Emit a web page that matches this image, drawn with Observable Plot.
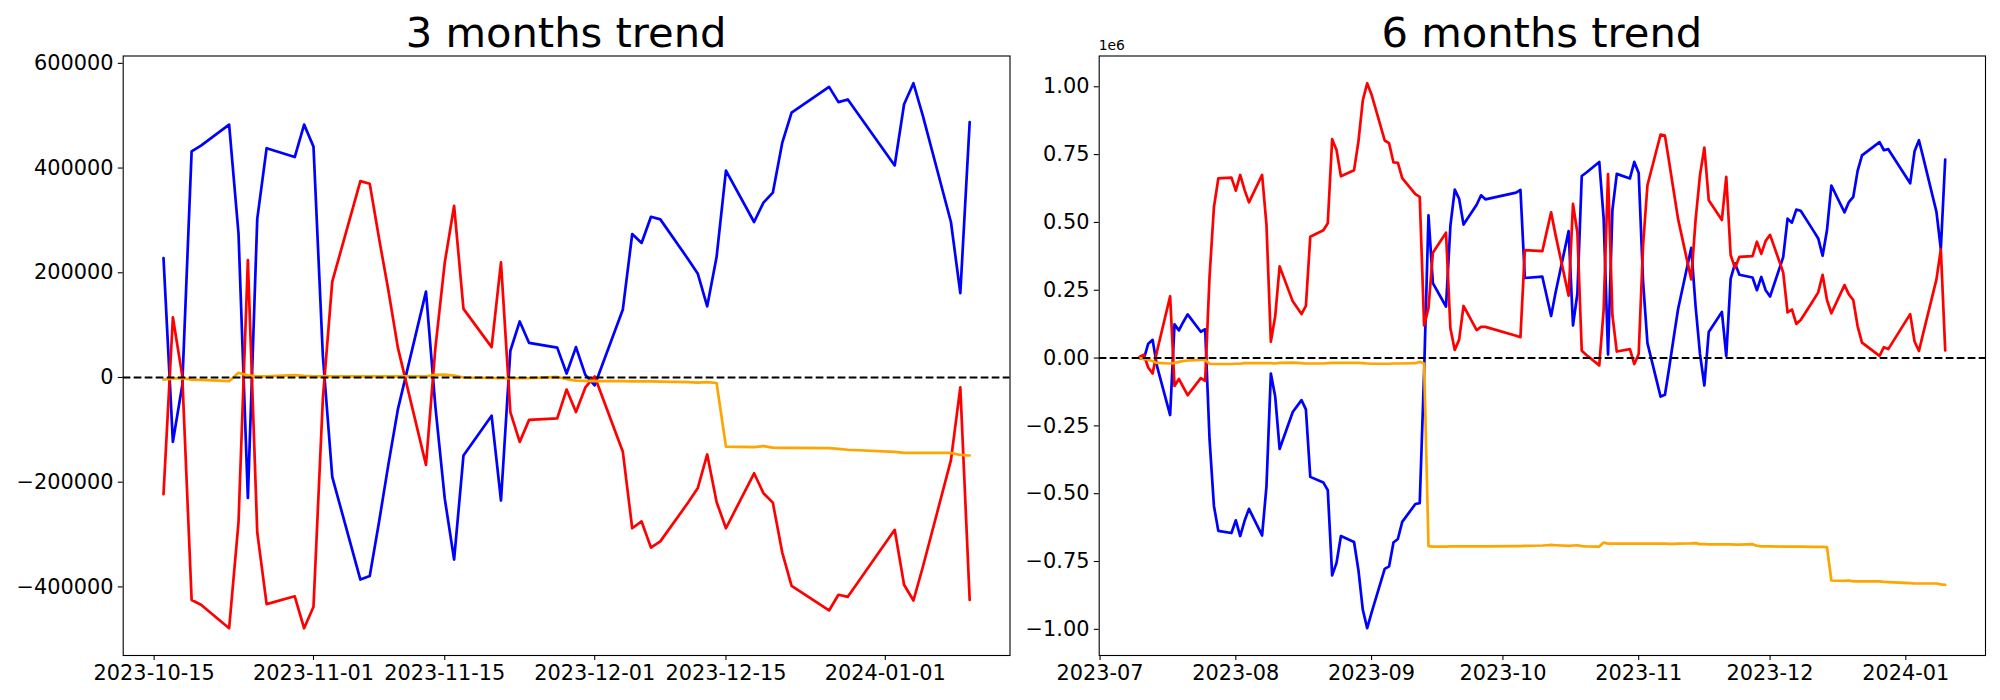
<!DOCTYPE html>
<html>
<head>
<meta charset="utf-8">
<script src="https://cdn.jsdelivr.net/npm/d3@7"></script>
<script src="https://cdn.jsdelivr.net/npm/@observablehq/plot@0.6"></script>
<style>
  body { margin: 0; background: #fff; }
  #wrap { position: relative; width: 2000px; height: 700px; font-family: "DejaVu Sans"; color: #000; overflow: hidden; }
  .title { position: absolute; font-size: 41.67px; line-height: 1; white-space: nowrap; transform: translateX(-50%); }
  .off { position: absolute; font-size: 13.9px; line-height: 1; white-space: nowrap; }
  .panel { position: absolute; top: 0; }
</style>
</head>
<body>
<div id="wrap"></div>
<script>
// ---------- 3 months trend ----------
const dates3m = [
  "2023-10-16","2023-10-17","2023-10-18","2023-10-19","2023-10-20",
  "2023-10-23","2023-10-24","2023-10-25","2023-10-26","2023-10-27",
  "2023-10-30","2023-10-31","2023-11-01","2023-11-02","2023-11-03",
  "2023-11-06","2023-11-07","2023-11-08","2023-11-09","2023-11-10",
  "2023-11-13","2023-11-14","2023-11-15","2023-11-16","2023-11-17",
  "2023-11-20","2023-11-21","2023-11-22","2023-11-23","2023-11-24",
  "2023-11-27","2023-11-28","2023-11-29","2023-11-30","2023-12-01",
  "2023-12-04","2023-12-05","2023-12-06","2023-12-07","2023-12-08",
  "2023-12-11","2023-12-12","2023-12-13","2023-12-14","2023-12-15",
  "2023-12-18","2023-12-19","2023-12-20","2023-12-21","2023-12-22",
  "2023-12-26","2023-12-27","2023-12-28",
  "2024-01-02","2024-01-03","2024-01-04","2024-01-05",
  "2024-01-08","2024-01-09","2024-01-10"
];
const blue3m = [
  228000, -123000, -15000, 432000, 443000,
  483000, 275000, -230000, 303000, 438000,
  421000, 483000, 441000, 41000, -190000,
  -386000, -379000, -275000, -165000, -61000,
  164000, -55000, -231000, -348000, -149000,
  -73000, -235000, 51000, 107000, 66000,
  57000, 7500, 58000, 5000, -15000,
  130000, 274000, 257000, 307000, 302000,
  225000, 198000, 136000, 230000, 395000,
  297000, 334000, 353000, 448000, 506000,
  555000, 526000, 531000,
  405000, 522000, 562000, 500000,
  297000, 161000, 488000
];
const red3m = [
  -223000, 115000, 3000, -425000, -434000,
  -479000, -277000, 224000, -296000, -433000,
  -418000, -479000, -438000, -40000, 183000,
  375000, 370000, 265000, 165000, 57000,
  -167000, 56000, 219000, 328000, 131000,
  58000, 220000, -66000, -123000, -81000,
  -78000, -23000, -66000, -19000, 2000,
  -142000, -288000, -275000, -325000, -313000,
  -238000, -211000, -147000, -238000, -288000,
  -183000, -221000, -239000, -334000, -398000,
  -445000, -415000, -419000,
  -291000, -396000, -426000, -362000,
  -158000, -19000, -425000
];
const orange3m = [
  -4000, -2000, -1500, -4000, -4500,
  -7000, 9000, 4000, 2000, 2000,
  4500, 3000, 2000, 2000, 2000,
  2000, 2000, 2000, 2000, 2000,
  2000, 5000, 5500, 3500, 0,
  -1000, -1500, -1500, -1500, -1500,
  1000, -3000, -6000, -6500, -7000,
  -7000, -7500, -7500, -7500, -8000,
  -9000, -10000, -9000, -10500, -132000,
  -133000, -131000, -134000, -134500, -134500,
  -135000, -136500, -138000,
  -142000, -144000, -144000, -144000,
  -144000, -148000, -149000
];
const xTicks3m = ["2023-10-15","2023-11-01","2023-11-15","2023-12-01","2023-12-15","2024-01-01"];
const yTicks3m = [-400000, -200000, 0, 200000, 400000, 600000];

// ---------- 6 months trend (values in units of 1e6) ----------
const dates6m = [
  "2023-07-10","2023-07-11","2023-07-12","2023-07-13","2023-07-14",
  "2023-07-17","2023-07-18","2023-07-19","2023-07-20","2023-07-21",
  "2023-07-24","2023-07-25","2023-07-26","2023-07-27","2023-07-28",
  "2023-07-31","2023-08-01","2023-08-02","2023-08-03","2023-08-04",
  "2023-08-07","2023-08-08","2023-08-09","2023-08-10","2023-08-11",
  "2023-08-14","2023-08-16","2023-08-17","2023-08-18",
  "2023-08-21","2023-08-22","2023-08-23","2023-08-24","2023-08-25",
  "2023-08-28","2023-08-29","2023-08-30","2023-08-31","2023-09-01",
  "2023-09-04","2023-09-05","2023-09-06","2023-09-07","2023-09-08",
  "2023-09-11","2023-09-12","2023-09-13","2023-09-14","2023-09-15",
  "2023-09-18","2023-09-19","2023-09-20","2023-09-21","2023-09-22",
  "2023-09-25","2023-09-26","2023-09-27",
  "2023-10-04","2023-10-05","2023-10-06",
  "2023-10-10","2023-10-11","2023-10-12","2023-10-13",
  "2023-10-16","2023-10-17","2023-10-18","2023-10-19","2023-10-20",
  "2023-10-23","2023-10-24","2023-10-25","2023-10-26","2023-10-27",
  "2023-10-30","2023-10-31","2023-11-01","2023-11-02","2023-11-03",
  "2023-11-06","2023-11-07","2023-11-08","2023-11-09","2023-11-10",
  "2023-11-13","2023-11-14","2023-11-15","2023-11-16","2023-11-17",
  "2023-11-20","2023-11-21","2023-11-22","2023-11-23","2023-11-24",
  "2023-11-27","2023-11-28","2023-11-29","2023-11-30","2023-12-01",
  "2023-12-04","2023-12-05","2023-12-06","2023-12-07","2023-12-08",
  "2023-12-11","2023-12-12","2023-12-13","2023-12-14","2023-12-15",
  "2023-12-18","2023-12-19","2023-12-20","2023-12-21","2023-12-22",
  "2023-12-26","2023-12-27","2023-12-28",
  "2024-01-02","2024-01-03","2024-01-04","2024-01-05",
  "2024-01-08","2024-01-09","2024-01-10"
];
const blue6m = [
  0.000, -0.003, 0.053, 0.067, -0.030,
  -0.210, 0.124, 0.102, 0.133, 0.161,
  0.097, 0.106, -0.300, -0.545, -0.637,
  -0.645, -0.598, -0.656, -0.600, -0.556,
  -0.654, -0.473, -0.057, -0.143, -0.335,
  -0.199, -0.155, -0.189, -0.438,
  -0.459, -0.487, -0.801, -0.755, -0.656,
  -0.678, -0.782, -0.928, -0.996, -0.938,
  -0.777, -0.768, -0.680, -0.667, -0.604,
  -0.538, -0.535, -0.050, 0.526, 0.276,
  0.190, 0.487, 0.621, 0.587, 0.492,
  0.565, 0.600, 0.585,
  0.610, 0.620, 0.295,
  0.300, 0.228, 0.155, 0.240,
  0.468, 0.120, 0.238, 0.671, 0.683,
  0.723, 0.515, 0.013, 0.545, 0.679,
  0.662, 0.723, 0.682, 0.282, 0.055,
  -0.142, -0.135, -0.032, 0.076, 0.181,
  0.406, 0.190, 0.015, -0.101, 0.096,
  0.170, 0.008, 0.292, 0.349, 0.307,
  0.297, 0.250, 0.299, 0.250, 0.227,
  0.372, 0.514, 0.499, 0.547, 0.543,
  0.467, 0.441, 0.377, 0.471, 0.636,
  0.537, 0.575, 0.594, 0.690, 0.747,
  0.796, 0.766, 0.770,
  0.644, 0.762, 0.803, 0.738,
  0.539, 0.401, 0.732
];
const red6m = [
  0.004, 0.012, -0.035, -0.057, 0.025,
  0.228, -0.103, -0.077, -0.107, -0.137,
  -0.074, -0.084, 0.300, 0.556, 0.662,
  0.665, 0.617, 0.675, 0.620, 0.574,
  0.675, 0.491, 0.060, 0.155, 0.338,
  0.209, 0.162, 0.192, 0.447,
  0.471, 0.497, 0.807, 0.767, 0.670,
  0.692, 0.798, 0.950, 1.013, 0.971,
  0.802, 0.792, 0.721, 0.720, 0.663,
  0.604, 0.594, 0.120, 0.184, 0.388,
  0.462, 0.110, 0.030, 0.068, 0.192,
  0.103, 0.115, 0.115,
  0.082, 0.077, 0.398,
  0.394, 0.466, 0.537, 0.455,
  0.230, 0.568, 0.462, 0.027, 0.012,
  -0.027, 0.178, 0.678, 0.158, 0.024,
  0.033, -0.022, 0.015, 0.415, 0.637,
  0.824, 0.820, 0.718, 0.615, 0.512,
  0.290, 0.510, 0.674, 0.776, 0.582,
  0.509, 0.668, 0.380, 0.332, 0.373,
  0.376, 0.429, 0.384, 0.432, 0.454,
  0.316, 0.168, 0.179, 0.126, 0.140,
  0.216, 0.242, 0.307, 0.214, 0.165,
  0.269, 0.235, 0.214, 0.117, 0.057,
  0.008, 0.040, 0.033,
  0.162, 0.061, 0.026, 0.093,
  0.290, 0.401, 0.028
];
const orange6m = [
  0.000, -0.003, -0.006, -0.012, -0.018,
  -0.020, -0.018, -0.014, -0.011, -0.009,
  -0.007, -0.007, -0.021, -0.022, -0.022,
  -0.022, -0.021, -0.021, -0.019, -0.019,
  -0.019, -0.019, -0.019, -0.020, -0.018,
  -0.017, -0.019, -0.020, -0.020,
  -0.020, -0.019, -0.018, -0.018, -0.018,
  -0.018, -0.018, -0.019, -0.020, -0.021,
  -0.021, -0.021, -0.020, -0.020, -0.020,
  -0.019, -0.014, -0.020, -0.693, -0.695,
  -0.695, -0.694, -0.694, -0.694, -0.694,
  -0.694, -0.694, -0.694,
  -0.693, -0.693, -0.692,
  -0.691, -0.690, -0.689, -0.690,
  -0.692, -0.691, -0.690, -0.693, -0.694,
  -0.695, -0.680, -0.684, -0.684, -0.684,
  -0.684, -0.684, -0.684, -0.684, -0.684,
  -0.684, -0.684, -0.685, -0.685, -0.684,
  -0.683, -0.682, -0.686, -0.686, -0.687,
  -0.687, -0.687, -0.687, -0.688, -0.688,
  -0.686, -0.692, -0.694, -0.694, -0.694,
  -0.695, -0.695, -0.695, -0.695, -0.695,
  -0.696, -0.696, -0.696, -0.697, -0.820,
  -0.821, -0.820, -0.823, -0.823, -0.823,
  -0.823, -0.825, -0.826,
  -0.830, -0.831, -0.831, -0.831,
  -0.831, -0.834, -0.836
];
const unit6m = 1e6;
const xTicks6m = ["2023-07-01","2023-08-01","2023-09-01","2023-10-01","2023-11-01","2023-12-01","2024-01-01"];
const yTicks6m = [-1, -0.75, -0.5, -0.25, 0, 0.25, 0.5, 0.75, 1];

const titles = ["3 months trend", "6 months trend"];
const colors = {blue: "#0000ff", red: "#ff0000", orange: "#ffa500"};

const parse = s => new Date(s + "T00:00:00Z");

function panel({dates, series, unit, width, marginLeft, marginRight, xTicks, xFmt, yTicks, yFmt}) {
  const dd = dates.map(parse);
  const lines = series.map(s => s.values.map((v, i) => ({date: dd[i], v: v * unit})));
  const all = lines.flat().map(d => d.v);
  const [d0, d1] = d3.extent(dd);
  const xp = (d1 - d0) * 0.05;
  const [y0, y1] = d3.extent(all);
  const yp = (y1 - y0) * 0.05;
  return Plot.plot({
    width, height: 700,
    marginLeft, marginRight, marginTop: 55.5, marginBottom: 45,
    x: {type: "utc", domain: [new Date(+d0 - xp), new Date(+d1 + xp)], label: null},
    y: {domain: [y0 - yp, y1 + yp], label: null},
    style: {fontFamily: "DejaVu Sans", fontSize: "20.83px", color: "black", background: "white", overflow: "visible"},
    marks: [
      ...lines.map((l, k) => Plot.line(l, {x: "date", y: "v", stroke: series[k].color, strokeWidth: 2.7})),
      Plot.ruleY([0], {stroke: "black", strokeWidth: 2.08, strokeDasharray: "7.7,3.3"}),
      Plot.frame({stroke: "black", strokeWidth: 1.1}),
      Plot.axisX({ticks: xTicks.map(parse), tickFormat: xFmt, tickSize: 4.9, tickPadding: 4.9, label: null, strokeWidth: 1.1}),
      Plot.axisY({ticks: yTicks.map(t => t * unit), tickFormat: yFmt, tickSize: 4.9, tickPadding: 4.9, label: null, strokeWidth: 1.1})
    ]
  });
}

const wrap = document.getElementById("wrap");

const left = panel({
  dates: dates3m,
  series: [{values: blue3m, color: colors.blue}, {values: red3m, color: colors.red}, {values: orange3m, color: colors.orange}],
  unit: 1, width: 1020, marginLeft: 122.7, marginRight: 10.5,
  xTicks: xTicks3m, xFmt: d3.utcFormat("%Y-%m-%d"),
  yTicks: yTicks3m, yFmt: d3.format("d")
});
left.classList.add("panel");
left.style.left = "0px";
wrap.appendChild(left);

const right = panel({
  dates: dates6m,
  series: [{values: blue6m, color: colors.blue}, {values: red6m, color: colors.red}, {values: orange6m, color: colors.orange}],
  unit: unit6m, width: 980, marginLeft: 78.7, marginRight: 15,
  xTicks: xTicks6m, xFmt: d3.utcFormat("%Y-%m"),
  yTicks: yTicks6m, yFmt: d => d3.format(".2f")(d / unit6m)
});
right.classList.add("panel");
right.style.left = "1020px";
wrap.appendChild(right);

function addText(cls, txt, x, top) {
  const el = document.createElement("div");
  el.className = cls;
  el.textContent = txt;
  el.style.left = x + "px";
  el.style.top = top + "px";
  wrap.appendChild(el);
}
addText("title", titles[0], (122.7 + 1009.5) / 2, 47 - 0.846 * 41.67);
addText("title", titles[1], (1098.7 + 1985) / 2, 47 - 0.846 * 41.67);
addText("off", "1e6", 1098.7, 50.5 - 0.846 * 13.9);
</script>
</body>
</html>
